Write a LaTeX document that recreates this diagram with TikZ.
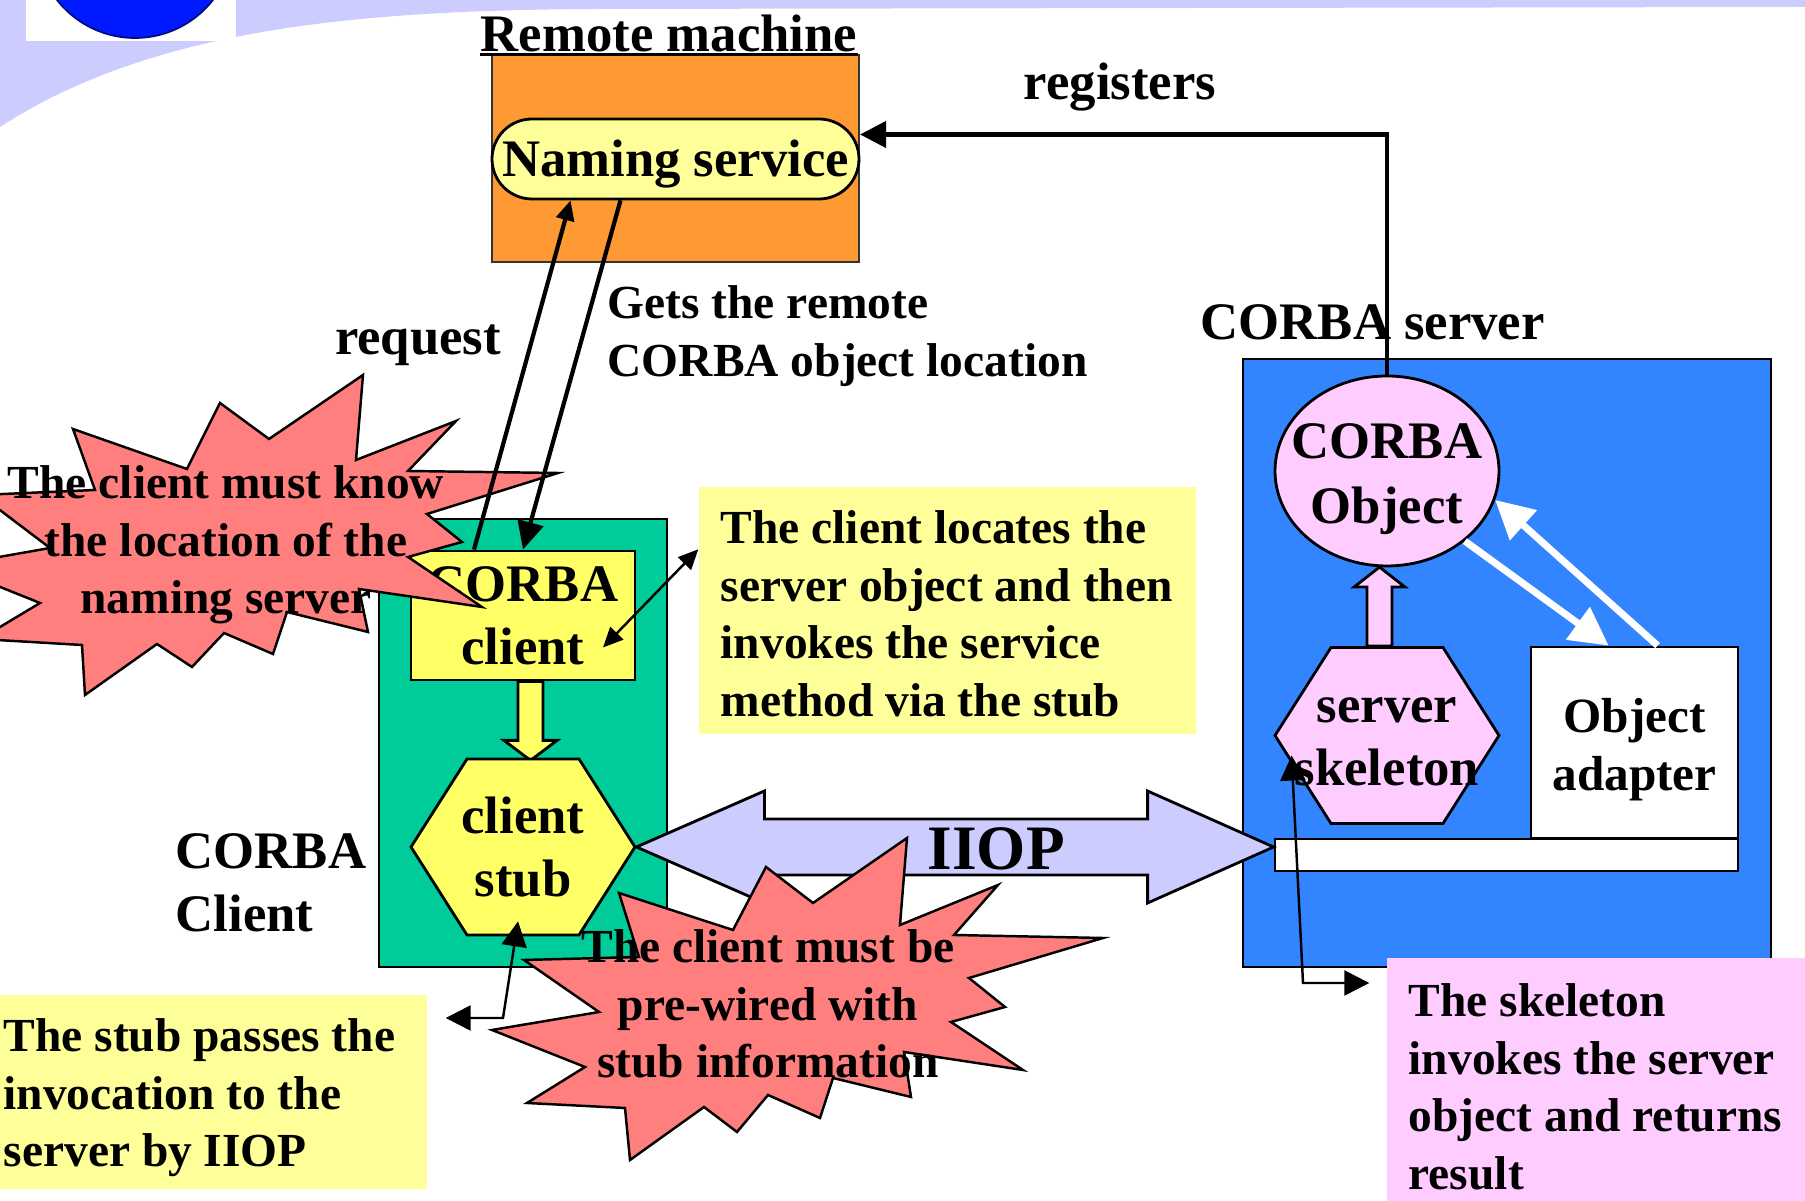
\documentclass[tikz,border=0pt]{standalone}
\usepackage{fontspec}
\setmainfont{Liberation Serif}
\usetikzlibrary{arrows.meta, calc, shapes.geometric}
\definecolor{lilac}{HTML}{CCCCFF}
\definecolor{logoBlue}{HTML}{0019FF}
\definecolor{remoteOrange}{HTML}{FF9933}
\definecolor{paleYellow}{HTML}{FFFF99}
\definecolor{clientGreen}{HTML}{00CC99}
\definecolor{stubYellow}{HTML}{FFFF66}
\definecolor{serverBlue}{HTML}{3385FF}
\definecolor{skelPink}{HTML}{FFCCFF}
\definecolor{burstRed}{HTML}{FF7F7F}
\newcommand{\lblfont}{\fontsize{15}{18}\selectfont\bfseries}
\newcommand{\notefont}{\fontsize{13.5}{16.4}\selectfont\bfseries}

\begin{document}
\begin{tikzpicture}[
    x=0.1mm, y=-0.1mm,
    lbl/.style={font=\lblfont, inner sep=0pt},
    notetxt/.style={font=\notefont, inner sep=0pt, align=left, anchor=west},
    burstlbl/.style={font=\notefont, inner sep=0pt, align=center},
    boxed/.style={draw=black, line width=0.8pt, inner sep=0pt, align=center, font=\lblfont},
    notebox/.style={inner sep=0pt},
    burst/.style={fill=burstRed, draw=black, line width=0.7pt, line join=miter},
    hexa/.style={draw=black, line width=0.8pt, line join=miter},
    hexlbl/.style={inner sep=0pt, minimum width=22.4mm, minimum height=17.6mm,
                   align=center, font=\lblfont},
    blockarr/.style={draw=black, line width=0.8pt, line join=miter},
    regarrow/.style={line width=1.2pt, -{Triangle[length=2.6mm,width=2.6mm]}},
    wire/.style={line width=0.7pt,
                 {Triangle[length=2.5mm,width=2.5mm]}-{Triangle[length=2.5mm,width=2.5mm]}},
    oaarrow/.style={draw=white, line width=0.7mm, -{Triangle[length=3.8mm,width=3.9mm]}},
  ]
  \useasboundingbox (0,0) rectangle (1805,1201);
  \clip (0,0) rectangle (1805,1201);

  % slide template corner
  \fill[lilac] (0,0) -- (1805,0) -- (1805,7) -- (600,9)
    .. controls (350,10) and (150,30) .. (0,127) -- cycle;
  \fill[white] (26,0) rectangle (236,41);
  \draw[fill=logoBlue, draw=logoBlue!50!black, line width=0.5pt] (135,-61) circle[radius=9.9mm];

  % remote machine
  \node[boxed, fill=remoteOrange, draw=black!80, line width=0.6pt,
        minimum width=36.7mm, minimum height=20.7mm] (remote) at (675.5,158.5) {};
  \node[boxed, fill=paleYellow, rounded corners=4mm, text height=3.5mm, text depth=0pt,
        minimum width=36.7mm, minimum height=8mm] (naming) at (675.5,159) {Naming service};
  \node[lbl, anchor=base] (remotelbl) at (669,52) {Remote machine};
  \draw[line width=0.9pt] ([yshift=-0.25mm]remotelbl.base west) -- ([yshift=-0.25mm]remotelbl.base east);
  \node[lbl, anchor=base] (reglbl) at (1120,100) {registers};

  % server side
  \node[lbl, anchor=base west] (serverlbl) at (1200,340) {CORBA server};
  \node[boxed, fill=serverBlue, minimum width=52.8mm, minimum height=60.8mm] (server) at (1507,663) {};
  \node[boxed, ellipse, fill=skelPink, minimum width=22.4mm, minimum height=19mm] (obj) at (1387,471) {};
  \node[lbl, align=center, font=\fontsize{15}{18.5}\selectfont\bfseries] (objlbl) at (1387,479) {CORBA\\Object};
  \draw[hexa, fill=skelPink] (1387,735.5) ++(-112,0) -- ++(56,-88) -- ++(112,0) -- ++(56,88)
    -- ++(-56,88) -- ++(-112,0) -- cycle
    (1387,735.5) node[hexlbl] (skel) {\rule{0pt}{3.8mm}server\\skeleton};
  \draw[blockarr, fill=skelPink] ([xshift=-2mm]skel.north) -- ++(0,-59) -- ++(-13,0) -- ++(25.5,-20)
    -- ++(25.5,20) -- ++(-13,0) -- ++(0,59) -- cycle;
  \node[boxed, fill=white, minimum width=20.7mm, minimum height=19.1mm,
        font=\fontsize{14}{16.5}\selectfont\bfseries] (adapter) at (1634.5,742.5) {\rule{0pt}{4.9mm}Object\\adapter};
  \node[boxed, fill=white, minimum width=46.3mm, minimum height=3.2mm] (bar) at (1506.5,855) {};
  \draw[oaarrow] (obj.-42) -- ([xshift=7.9mm]adapter.north west);
  \draw[oaarrow] ([xshift=12.8mm]adapter.north west) -- (obj.-15);
  \draw[regarrow] (obj.north) |- ([yshift=2.4mm]remote.east);

  % client side
  \node[boxed, fill=clientGreen, minimum width=28.8mm, minimum height=44.8mm] (clientbox) at (523,743) {};
  \node[boxed, fill=stubYellow, minimum width=22.4mm, minimum height=12.9mm] (client) at (523,615.5) {CORBA\\client};
  \draw[blockarr, fill=stubYellow] ([xshift=-0.5mm]client.south) -- ++(0,59) -- ++(-14,0) -- ++(26.5,20)
    -- ++(26.5,-20) -- ++(-14,0) -- ++(0,-59) -- cycle;
  \draw[hexa, fill=stubYellow] (523,847) ++(-112,0) -- ++(56,-88) -- ++(112,0) -- ++(56,88)
    -- ++(-56,88) -- ++(-112,0) -- cycle
    (523,847) node[hexlbl] (stub) {client\\stub};
  \node[lbl, align=left, anchor=west] (clientlbl) at (175,883) {CORBA\\Client};

  % IIOP
  \coordinate (iiopR) at ([yshift=0.8mm]bar.west);
  \draw[blockarr, fill=lilac] (stub.east) -- ++(128,-56) -- ++(0,28) -- ($(iiopR)+(-126,-28)$)
    -- ++(0,-28) -- (iiopR) -- ++(-126,56) -- ++(0,-28) -- ($(stub.east)+(128,28)$)
    -- ++(0,28) -- cycle;
  \node[font=\fontsize{18}{20}\selectfont\bfseries, inner sep=0pt, anchor=base west] (iiop) at (927,870) {IIOP};

  % locate note
  \node[notebox, fill=paleYellow, minimum width=49.7mm, minimum height=24.7mm] (locnote) at (947.5,610.5) {};
  \node[notetxt] (locnotetxt) at (720,614)
    {The client locates the\\server object and then\\invokes the service\\method via the stub};
  \draw[line width=0.7pt, {Triangle[length=2mm,width=1.8mm]}-{Triangle[length=2mm,width=1.8mm]}]
    ([shift={(8mm,-3.2mm)}]client.center) -- ([yshift=-6.3mm]locnote.north west);

  % first burst
  \draw[burst] (363,375) -- (356,460) -- (456,421) -- (408,471) -- (558,473) -- (427,514)
    -- (462,542) -- (408,557) -- (482,607) -- (359,589) -- (368,632) -- (287,612) -- (273,654)
    -- (224,633) -- (192,667) -- (157,644) -- (85,695) -- (82,645) -- (-20,639) -- (40,603)
    -- (-52,566) -- (50,548) -- (-20,495) -- (95,490) -- (73,429) -- (187,469) -- (220,403)
    -- (269,439) -- cycle;
  \draw[regarrow, -{Triangle[length=2mm,width=1.8mm]}] ([xshift=-4.9mm]client.north) -- ([xshift=-10.5mm]naming.south);
  \draw[regarrow, -{Triangle[length=2.8mm,width=2.6mm]}] ([xshift=-5.5mm]naming.south) -- (client.north);
  \node[lbl, anchor=base] (reqlbl) at (418,355) {request};
  \node[lbl, font=\notefont, align=left, anchor=west] (getslbl) at (607,336)
    {Gets the remote\\CORBA object location};
  \node[burstlbl] (knowlbl) at (226,545) {The client must know\\the location of the\\naming server};

  % second burst
  \draw[burst] (766,867) -- (813,903) -- (907,838) -- (900,925) -- (998,885) -- (954,935)
    -- (1103,938) -- (969,978) -- (1005,1007) -- (951,1022) -- (1023,1070) -- (904,1052)
    -- (911,1097) -- (833,1078) -- (820,1118) -- (768,1095) -- (737,1132) -- (704,1107)
    -- (630,1160) -- (625,1108) -- (527,1103) -- (585,1067) -- (492,1030) -- (599,1012)
    -- (524,960) -- (639,957) -- (619,893) -- (733,930) -- cycle;
  \node[burstlbl] (wiredlbl) at (768,1004) {The client must be\\pre-wired with\\stub information};

  % stub note
  \node[notebox, fill=paleYellow, minimum width=42.7mm, minimum height=19.4mm] (stubnote) at (213.5,1092) {};
  \node[notetxt] (stubnotetxt) at (3,1098)
    {The stub passes the\\invocation to the\\server by IIOP};
  \coordinate (stubbend) at (503,1018);
  \draw[wire] ([shift={(-0.5mm,1.5mm)}]stub.south) -- (stubbend) -- ($(stubnote.east |- stubbend)+(18,0)$);

  % skeleton note
  \node[notebox, fill=skelPink, minimum width=44.3mm, minimum height=25.7mm] (skelnote) at (1608.5,1086.5) {};
  \node[notetxt] (skelnotetxt) at (1408,1087)
    {The skeleton\\invokes the server\\object and returns\\result};
  \coordinate (skelbend) at (1303,983);
  \draw[wire] ([shift={(1.8mm,-2mm)}]skel.west) -- (skelbend) -- ($(skelnote.west |- skelbend)+(-17,0)$);
\end{tikzpicture}
\end{document}
